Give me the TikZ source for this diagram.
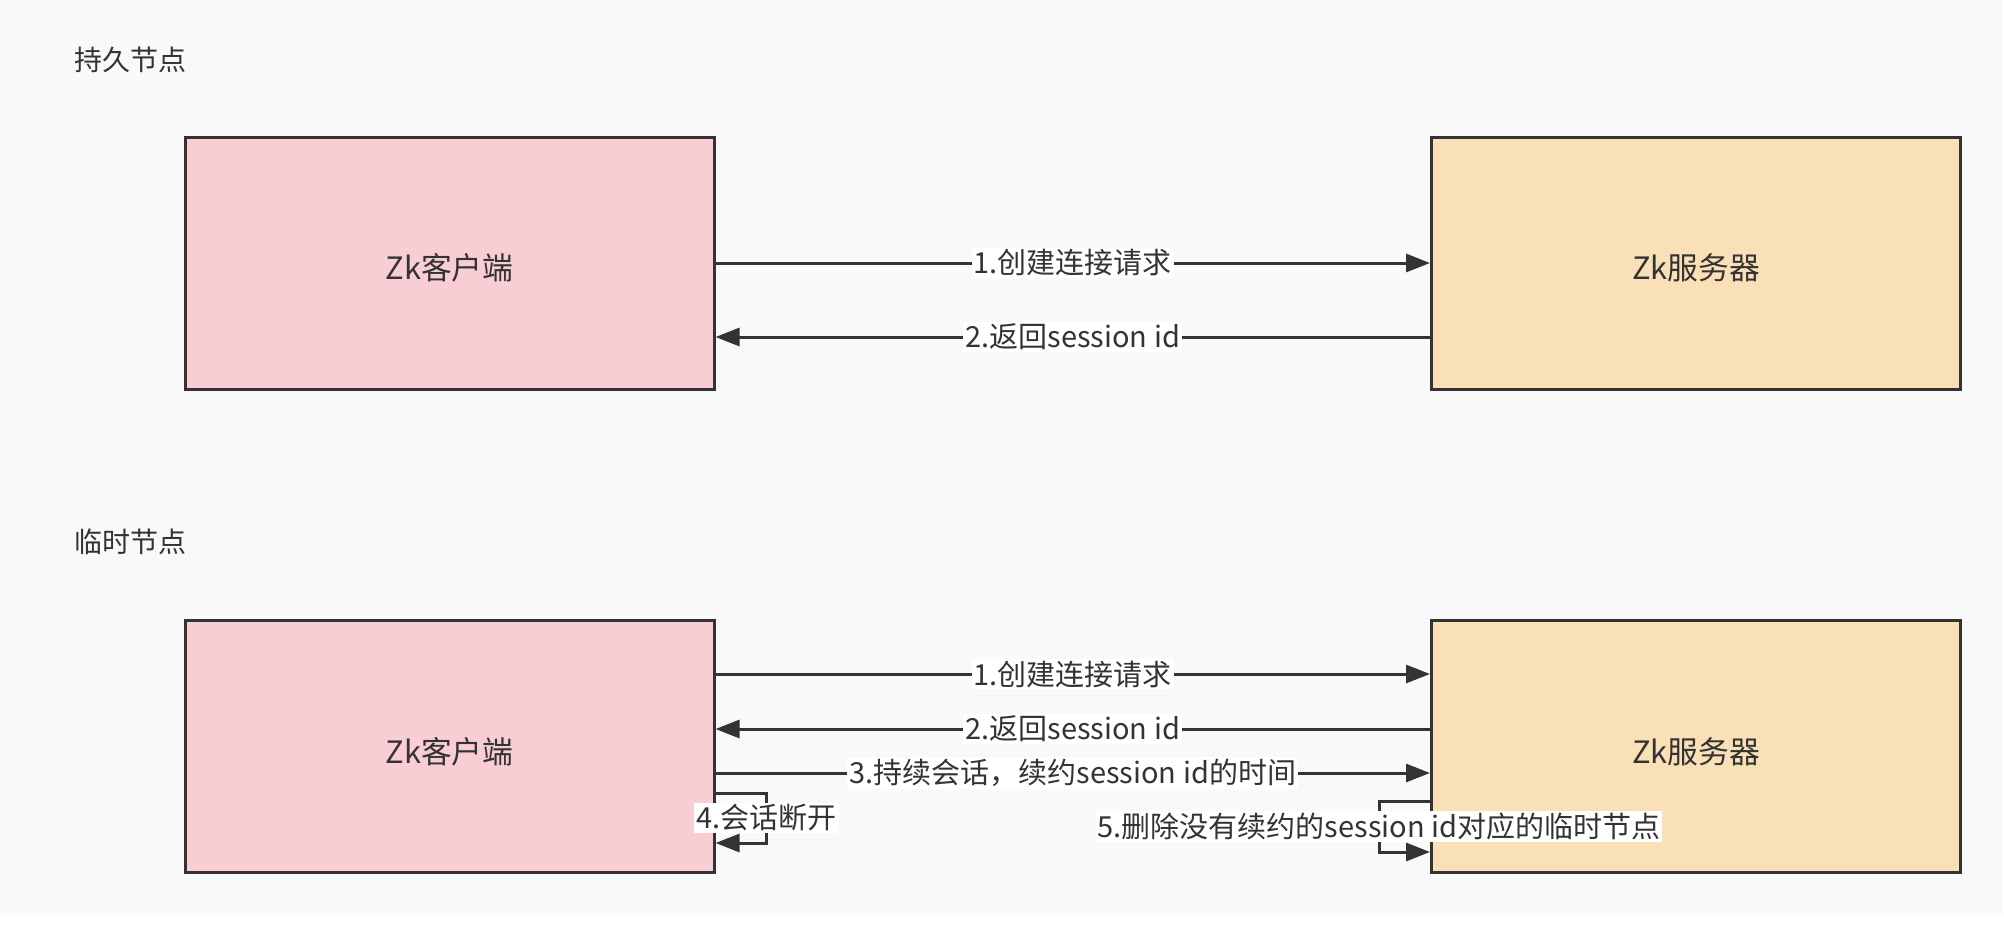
\documentclass[tikz,border=0pt]{standalone}
\usepackage{fontspec}
\setmainfont{Noto Sans CJK SC}
\usetikzlibrary{arrows.meta,calc}
\definecolor{bg}{HTML}{F9F9F9}
\definecolor{ink}{HTML}{333333}
\definecolor{pinkfill}{HTML}{F8CED4}
\definecolor{orangefill}{HTML}{F9E0B7}
\tikzset{
  box/.style={draw=ink, line width=1.5pt, minimum width=264.5pt, minimum height=126pt, inner sep=0pt, text=ink, font=\fontsize{15.4pt}{18pt}\selectfont},
  clientbox/.style={box, fill=pinkfill},
  serverbox/.style={box, fill=orangefill},
  boxtext/.style={text=ink, inner sep=0pt, font=\fontsize{15.4pt}{18pt}\selectfont},
  arr/.style={draw=ink, line width=1.5pt, -{Triangle[length=12pt,width=9pt]}},
  lbl/.style={fill=white, text=ink, inner sep=1pt, font=\fontsize{14.5pt}{17pt}\selectfont},
  title/.style={text=ink, anchor=west, inner sep=0pt, font=\fontsize{14pt}{17pt}\selectfont}
}
\begin{document}
\begin{tikzpicture}[x=0.5pt,y=-0.5pt]
\useasboundingbox (0,0) rectangle (2004,938);
\fill[white] (0,0) rectangle (2004,938);
\fill[bg] (0,0) rectangle (2003,915);

% titles
\node[title] (t1) at (74,60) {持久节点};
\node[title] (t2) at (74,542) {临时节点};

% upper section
\node[clientbox] (c1) at (449.5,263) {};
\node[boxtext] (c1t) at ([yshift=-2.5pt]c1.center) {Zk客户端};
\node[serverbox] (s1) at (1696,263) {};
\node[boxtext] (s1t) at ([yshift=-2.5pt]s1.center) {Zk服务器};
\draw[arr] (c1.east) -- node[lbl] (l11) {1.创建连接请求} (s1.west);
\draw[arr] ([yshift=-37pt]s1.west) -- node[lbl] (l12) {2.返回session id} ([yshift=-37pt]c1.east);

% lower section
\node[clientbox] (c2) at (449.5,746.5) {};
\node[boxtext] (c2t) at ([yshift=-2.5pt]c2.center) {Zk客户端};
\node[serverbox] (s2) at (1696,746.5) {};
\node[boxtext] (s2t) at ([yshift=-2.5pt]s2.center) {Zk服务器};
\draw[arr] ([yshift=36.25pt]c2.east) -- node[lbl] (l21) {1.创建连接请求} ([yshift=36.25pt]s2.west);
\draw[arr] ([yshift=8.75pt]s2.west) -- node[lbl] (l22) {2.返回session id} ([yshift=8.75pt]c2.east);
\draw[arr] ([yshift=-13.25pt]c2.east) -- node[lbl] (l23) {3.持续会话，续约session id的时间} ([yshift=-13.25pt]s2.west);
\draw[arr] ([yshift=-23.25pt]c2.east) -- ++(25.5pt,0) -- node[lbl] (l24) {4.会话断开} ++(0,-25pt) -- ([yshift=-48.25pt]c2.east);
\draw[arr] ([yshift=-27.25pt]s2.west) -- ++(-25.5pt,0) -- node[lbl] (l25) {5.删除没有续约的session id对应的临时节点} ++(0,-25.5pt) -- ([yshift=-52.75pt]s2.west);
\end{tikzpicture}
\end{document}
